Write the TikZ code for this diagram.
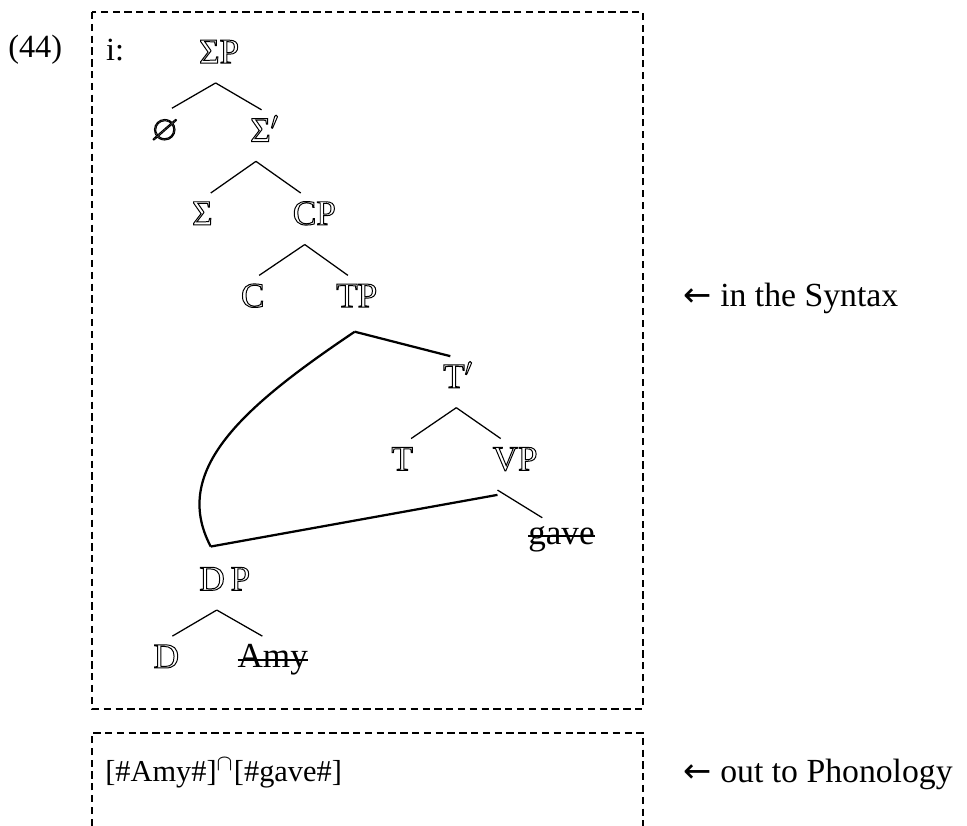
\documentclass[tikz,border=0pt]{standalone}
\usepackage{amssymb}
\usepackage{fontspec}
\setmainfont{Liberation Serif}
\newfontfamily\arrowfont{DejaVu Sans}
\usetikzlibrary{calc}
\newcommand{\hollow}[1]{\special{pdf:literal direct 1 Tr 0.35 w}#1\special{pdf:literal direct 0 Tr}}
\newlength\strucklen
\newcommand{\struck}[1]{\settowidth\strucklen{#1}\rlap{\rule[0.45ex]{\strucklen}{0.7pt}}#1}
\tikzset{
  cat/.style={inner sep=0pt,anchor=base,text height=0.39cm,text depth=0.24cm,font=\fontsize{12.5}{15}\selectfont},
  branch/.style={line width=0.45pt},
  move/.style={line width=0.8pt},
  frame/.style={line width=0.75pt,dash pattern=on 2.6pt off 1.6pt},
  note/.style={inner sep=0pt,anchor=base west,font=\fontsize{12}{14}\selectfont},
}
\begin{document}
\begin{tikzpicture}
  \useasboundingbox (0,0) rectangle (12.09,-10.325);
  % frames
  \draw[frame] (1.15,-0.15) rectangle (8.04,-8.86);
  \draw[frame] (1.15,-10.325) |- (8.04,-9.16) -- (8.04,-10.325);

  \node[inner sep=0pt,anchor=base,font=\fontsize{11.5}{14}\selectfont] (ex) at (0.44,-0.72) {(44)};
  \node[inner sep=0pt,anchor=base west,font=\fontsize{11.5}{14}\selectfont] (ilbl) at (1.32,-0.76) {i:};

  % tree
  \node[cat] (SP) at (2.74,-0.79) {\hollow{ΣP}};
  \node[cat] (Null) at (2.06,-1.75) {\hollow{$\varnothing$}};
  \node[cat] (SigBar) at (3.31,-1.77) {\hollow{Σ$'$}};
  \node[cat] (Sig) at (2.53,-2.81) {\hollow{Σ}};
  \node[cat] (CP) at (3.93,-2.81) {\hollow{CP}};
  \node[cat] (C) at (3.16,-3.84) {\hollow{C}};
  \node[cat] (TP) at (4.46,-3.84) {\hollow{TP}};
  \node[cat] (Tbar) at (5.73,-4.85) {\hollow{T$'$}};
  \node[cat] (T) at (5.03,-5.88) {\hollow{T}};
  \node[cat] (VP) at (6.44,-5.88) {\hollow{VP}};
  \node[cat] (gave) at (7.02,-6.81) {\struck{gave}};
  \node[cat] (DP) at (2.81,-7.38) {\hollow{D\,P}};
  \node[cat] (D) at (2.08,-8.35) {\hollow{D}};
  \node[cat] (Amy) at (3.41,-8.35) {\struck{Amy}};

  \foreach \p/\a/\c/\b in {SP/-0.44/Null/0.9, SP/-0.44/SigBar/-0.4, SigBar/-1.1/Sig/1.05, SigBar/-1.1/CP/-1.7,
      CP/-1.2/C/0.8, CP/-1.2/TP/-1.1, Tbar/-0.25/T/1.1, Tbar/-0.25/VP/-1.8, DP/-1/D/0.75, DP/-1/Amy/-1.3}
    {\draw[branch] ([xshift=\a mm]\p.south) -- ([xshift=\b mm]\c.north);}
  \draw[branch] ([xshift=-2.2mm]VP.south) -- ([shift={(-2.4mm,-0.6mm)}]gave.north);

  % shared DP
  \coordinate (TPb) at ([shift={(-0.25mm,-0.6mm)}]TP.south);
  \coordinate (DPt) at ([shift={(-1.75mm,1.5mm)}]DP.north);
  \draw[move] (TPb) -- ([xshift=-1mm]Tbar.north);
  \draw[move] (TPb) .. controls +(-1.375,-0.925) and +(-0.51,0.96) .. (DPt);
  \draw[move] (DPt) -- ([shift={(-2.2mm,-0.6mm)}]VP.south);

  \node[note] (syn) at (8.54,-3.83) {{\arrowfont ←} in the Syntax};
  \node[inner sep=0pt,anchor=base west,font=\fontsize{10.8}{13}\selectfont] (pf) at (1.31,-9.77) {[\#Amy\#]$^{\cap}$[\#gave\#]};
  \node[note] (phon) at (8.54,-9.78) {{\arrowfont ←} out to Phonology};
\end{tikzpicture}
\end{document}
